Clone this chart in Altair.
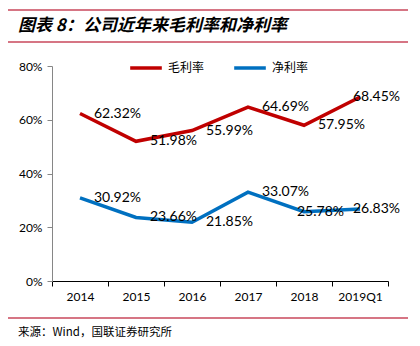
import altair as alt
import pandas as pd

years = ["2014", "2015", "2016", "2017", "2018", "2019Q1"]
gross = [62.32, 51.98, 55.99, 64.69, 57.95, 68.45]
net = [30.92, 23.66, 21.85, 33.07, 25.78, 26.83]
series_names = ["毛利率", "净利率"]
colors = ["#C00000", "#0070C0"]
y_ticks = [0, 20, 40, 60, 80]
title_text = "图表 8：公司近年来毛利率和净利率"
source_text = "来源：Wind，国联证券研究所"

rows = []
for yr, g in zip(years, gross):
    rows.append({"year": yr, "series": series_names[0], "value": g})
for yr, n in zip(years, net):
    rows.append({"year": yr, "series": series_names[1], "value": n})
df = pd.DataFrame(rows)

W, H = 336, 215
LEFT, TOP = 52, 66
LINE_RED = "#C9475B"

x = alt.X("year:N", sort=years,
          scale=alt.Scale(type="band", paddingInner=0, paddingOuter=0),
          axis=alt.Axis(title=None, labelAngle=0, tickBand="extent",
                        domainColor="#000000", tickColor="#000000", tickSize=5,
                        labelFont="Lato", labelFontSize=12, labelColor="#000000",
                        labelPadding=5, grid=False))
y = alt.Y("value:Q", scale=alt.Scale(domain=[0, 80]),
          axis=alt.Axis(title=None, values=y_ticks, labelExpr="datum.value + '%'",
                        domainColor="#868686", tickColor="#868686", tickSize=5,
                        grid=False, labelFont="Lato", labelFontSize=12,
                        labelColor="#000000", labelPadding=5))
color = alt.Color("series:N",
                  scale=alt.Scale(domain=series_names, range=colors),
                  legend=alt.Legend(title=None, orient="none", legendX=128 - LEFT,
                                    legendY=-16, direction="horizontal",
                                    symbolType="stroke", symbolSize=1000,
                                    symbolStrokeWidth=3.5, labelFont="Noto Sans CJK SC",
                                    labelFontSize=12, labelColor="#000000",
                                    columnPadding=22, labelOffset=4))

base = alt.Chart(df).transform_calculate(
    label="format(datum.value, '.2f') + '%'")

red = base.transform_filter(alt.datum.series == series_names[0]).mark_line(
    strokeWidth=3.5, interpolate="linear").encode(x=x, y=y, color=color)
blue = base.transform_filter(alt.datum.series == series_names[1]).mark_line(
    strokeWidth=3.5, interpolate="linear").encode(x=x, y=y, color=color)

shift_cond = "datum.year == '2019Q1' || (datum.year == '2018' && datum.series == '净利率')"
labels_a = base.transform_filter("!(" + shift_cond + ")").mark_text(
    align="left", baseline="middle", dx=14, font="Lato", fontSize=14,
    color="#000000").encode(x=x, y=y, text="label:N")
labels_b = base.transform_filter(shift_cond).mark_text(
    align="left", baseline="middle", dx=-7, font="Lato", fontSize=14,
    color="#000000").encode(x=x, y=y, text="label:N")

def hrule(ypix):
    return alt.Chart(alt.Data(values=[{}])).mark_rule(
        color=LINE_RED, strokeWidth=1.5).encode(
        x=alt.value(8 - LEFT), x2=alt.value(408 - LEFT), y=alt.value(ypix - TOP))

title = alt.Chart(alt.Data(values=[{}])).mark_text(
    text=title_text, align="left", baseline="middle", font="Noto Sans CJK SC",
    fontSize=17, fontStyle="italic", fontWeight="bold", color="#000000").encode(
    x=alt.value(18 - LEFT), y=alt.value(26 - TOP))
source = alt.Chart(alt.Data(values=[{}])).mark_text(
    text=source_text, align="left", baseline="middle", font="Noto Sans CJK SC",
    fontSize=11.5, color="#000000").encode(
    x=alt.value(18 - LEFT), y=alt.value(333 - TOP))

chart = alt.layer(
    red, blue, labels_a, labels_b,
    hrule(10), hrule(42), hrule(318), title, source
).properties(
    width=W, height=H,
    autosize=alt.AutoSizeParams(type="none"),
    padding={"left": LEFT, "top": TOP, "right": 420 - LEFT - W, "bottom": 346 - TOP - H},
).configure_view(stroke=None)

chart.save("out.html", embed_options={"renderer": "svg", "actions": False})
